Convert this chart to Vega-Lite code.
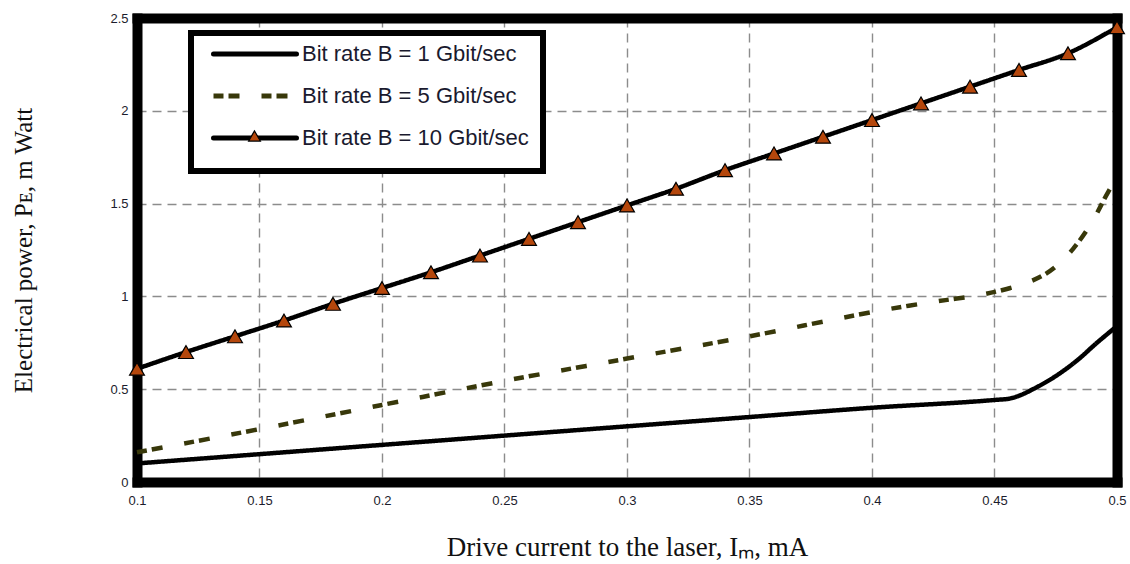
{
  "$schema": "https://vega.github.io/schema/vega-lite/v6.json",
  "width": 980,
  "height": 464,
  "autosize": {"type": "none"},
  "padding": {"left": 137, "top": 18, "right": 13, "bottom": 82},
  "background": "white",
  "config": {"view": {"stroke": null}, "font": "Liberation Sans"},
  "data": {
    "values": [
      {"series": "Bit rate B = 1 Gbit/sec", "current": 0.1, "power": 0.1},
      {"series": "Bit rate B = 1 Gbit/sec", "current": 0.15, "power": 0.15},
      {"series": "Bit rate B = 1 Gbit/sec", "current": 0.2, "power": 0.2},
      {"series": "Bit rate B = 1 Gbit/sec", "current": 0.25, "power": 0.25},
      {"series": "Bit rate B = 1 Gbit/sec", "current": 0.3, "power": 0.3},
      {"series": "Bit rate B = 1 Gbit/sec", "current": 0.35, "power": 0.35},
      {"series": "Bit rate B = 1 Gbit/sec", "current": 0.4, "power": 0.4},
      {"series": "Bit rate B = 1 Gbit/sec", "current": 0.45, "power": 0.442},
      {"series": "Bit rate B = 1 Gbit/sec", "current": 0.456, "power": 0.449},
      {"series": "Bit rate B = 1 Gbit/sec", "current": 0.461, "power": 0.47},
      {"series": "Bit rate B = 1 Gbit/sec", "current": 0.4657, "power": 0.5},
      {"series": "Bit rate B = 1 Gbit/sec", "current": 0.4755, "power": 0.575},
      {"series": "Bit rate B = 1 Gbit/sec", "current": 0.4837, "power": 0.655},
      {"series": "Bit rate B = 1 Gbit/sec", "current": 0.4918, "power": 0.75},
      {"series": "Bit rate B = 1 Gbit/sec", "current": 0.5, "power": 0.84},
      {"series": "Bit rate B = 5 Gbit/sec", "current": 0.1, "power": 0.16},
      {"series": "Bit rate B = 5 Gbit/sec", "current": 0.15, "power": 0.285},
      {"series": "Bit rate B = 5 Gbit/sec", "current": 0.2, "power": 0.415},
      {"series": "Bit rate B = 5 Gbit/sec", "current": 0.25, "power": 0.545},
      {"series": "Bit rate B = 5 Gbit/sec", "current": 0.3, "power": 0.665},
      {"series": "Bit rate B = 5 Gbit/sec", "current": 0.35, "power": 0.785},
      {"series": "Bit rate B = 5 Gbit/sec", "current": 0.4, "power": 0.915},
      {"series": "Bit rate B = 5 Gbit/sec", "current": 0.415, "power": 0.95},
      {"series": "Bit rate B = 5 Gbit/sec", "current": 0.43, "power": 0.98},
      {"series": "Bit rate B = 5 Gbit/sec", "current": 0.443, "power": 1.005},
      {"series": "Bit rate B = 5 Gbit/sec", "current": 0.455, "power": 1.04},
      {"series": "Bit rate B = 5 Gbit/sec", "current": 0.4625, "power": 1.07},
      {"series": "Bit rate B = 5 Gbit/sec", "current": 0.474, "power": 1.15},
      {"series": "Bit rate B = 5 Gbit/sec", "current": 0.482, "power": 1.255},
      {"series": "Bit rate B = 5 Gbit/sec", "current": 0.49, "power": 1.405},
      {"series": "Bit rate B = 5 Gbit/sec", "current": 0.4965, "power": 1.565},
      {"series": "Bit rate B = 5 Gbit/sec", "current": 0.5, "power": 1.64},
      {"series": "Bit rate B = 10 Gbit/sec", "current": 0.1, "power": 0.61},
      {"series": "Bit rate B = 10 Gbit/sec", "current": 0.12, "power": 0.7},
      {"series": "Bit rate B = 10 Gbit/sec", "current": 0.14, "power": 0.785},
      {"series": "Bit rate B = 10 Gbit/sec", "current": 0.16, "power": 0.87},
      {"series": "Bit rate B = 10 Gbit/sec", "current": 0.18, "power": 0.96},
      {"series": "Bit rate B = 10 Gbit/sec", "current": 0.2, "power": 1.045},
      {"series": "Bit rate B = 10 Gbit/sec", "current": 0.22, "power": 1.13},
      {"series": "Bit rate B = 10 Gbit/sec", "current": 0.24, "power": 1.22},
      {"series": "Bit rate B = 10 Gbit/sec", "current": 0.26, "power": 1.31},
      {"series": "Bit rate B = 10 Gbit/sec", "current": 0.28, "power": 1.4},
      {"series": "Bit rate B = 10 Gbit/sec", "current": 0.3, "power": 1.49},
      {"series": "Bit rate B = 10 Gbit/sec", "current": 0.32, "power": 1.58},
      {"series": "Bit rate B = 10 Gbit/sec", "current": 0.34, "power": 1.68},
      {"series": "Bit rate B = 10 Gbit/sec", "current": 0.36, "power": 1.77},
      {"series": "Bit rate B = 10 Gbit/sec", "current": 0.38, "power": 1.86},
      {"series": "Bit rate B = 10 Gbit/sec", "current": 0.4, "power": 1.95},
      {"series": "Bit rate B = 10 Gbit/sec", "current": 0.42, "power": 2.04},
      {"series": "Bit rate B = 10 Gbit/sec", "current": 0.44, "power": 2.13},
      {"series": "Bit rate B = 10 Gbit/sec", "current": 0.46, "power": 2.22},
      {"series": "Bit rate B = 10 Gbit/sec", "current": 0.48, "power": 2.31},
      {"series": "Bit rate B = 10 Gbit/sec", "current": 0.5, "power": 2.45}
    ]
  },
  "resolve": {"axis": {"x": "independent", "y": "independent"}},
  "layer": [
    {
      "mark": {"type": "line", "strokeWidth": 4.5, "interpolate": "monotone", "strokeCap": "butt", "strokeJoin": "round"},
      "encoding": {
        "x": {
          "field": "current", "type": "quantitative",
          "scale": {"domain": [0.1, 0.5], "nice": false, "zero": false},
          "axis": {
            "orient": "bottom",
            "title": "Drive current to the laser, Iₘ, mA",
            "values": [0.1, 0.15, 0.2, 0.25, 0.3, 0.35, 0.4, 0.45, 0.5],
            "format": "~g",
            "grid": true, "gridDash": [9, 6], "gridColor": "#8c8c8c", "gridWidth": 1.4,
            "gridOpacity": {"condition": {"test": "datum.value <= 0.1 || datum.value >= 0.5", "value": 0}, "value": 1},
            "ticks": false, "tickSize": 0,
            "domainWidth": 10, "domainColor": "black", "domainCap": "square",
            "labelFont": "Liberation Sans", "labelFontSize": 13, "labelColor": "#1c1c2c", "labelPadding": 12, "labelFlush": false,
            "titleFont": "Liberation Serif", "titleFontSize": 27, "titleFontWeight": "normal", "titleColor": "#111111", "titlePadding": 27
          }
        },
        "y": {
          "field": "power", "type": "quantitative",
          "scale": {"domain": [0, 2.5], "nice": false},
          "axis": {
            "orient": "left",
            "title": "Electrical power, Pᴇ, m Watt",
            "values": [0, 0.5, 1, 1.5, 2, 2.5],
            "format": "~g",
            "grid": true, "gridDash": [9, 6], "gridColor": "#8c8c8c", "gridWidth": 1.4,
            "gridOpacity": {"condition": {"test": "datum.value <= 0 || datum.value >= 2.5", "value": 0}, "value": 1},
            "ticks": false, "tickSize": 0,
            "domainWidth": 10, "domainColor": "black", "domainCap": "square",
            "labelFont": "Liberation Sans", "labelFontSize": 13, "labelColor": "#1c1c2c", "labelPadding": 9,
            "titleFont": "Liberation Serif", "titleFontSize": 25, "titleFontWeight": "normal", "titleColor": "#111111", "titlePadding": 73
          }
        },
        "stroke": {
          "field": "series", "type": "nominal",
          "scale": {
            "domain": ["Bit rate B = 1 Gbit/sec", "Bit rate B = 5 Gbit/sec", "Bit rate B = 10 Gbit/sec"],
            "range": ["#000000", "#38380a", "#000000"]
          },
          "legend": {
            "orient": "none", "legendX": 54, "legendY": 15, "zindex": 1,
            "title": " ", "titleOrient": "bottom", "titleFontSize": 8, "titlePadding": 0,
            "strokeColor": "black", "fillColor": "white",
            "padding": 14, "clipHeight": 14, "rowPadding": 20,
            "symbolType": "stroke", "symbolSize": 6889, "symbolStrokeWidth": 5, "symbolOffset": 6,
            "labelFont": "Liberation Sans", "labelFontSize": 22, "labelColor": "#1a1a2e", "labelOffset": 3, "labelLimit": 400,
            "encode": {
              "legend": {"update": {"strokeWidth": {"value": 6}}},
              "symbols": {
                "update": {
                  "strokeDash": [{"test": "datum.value === 'Bit rate B = 5 Gbit/sec'", "value": [9, 23]}],
                  "strokeCap": [{"test": "datum.value === 'Bit rate B = 5 Gbit/sec'", "value": "butt"}, {"value": "round"}]
                }
              }
            }
          }
        },
        "strokeDash": {
          "field": "series", "type": "nominal",
          "scale": {
            "domain": ["Bit rate B = 1 Gbit/sec", "Bit rate B = 5 Gbit/sec", "Bit rate B = 10 Gbit/sec"],
            "range": [[1, 0], [10, 5, 11, 22], [1, 0]]
          },
          "legend": null
        }
      }
    },
    {
      "transform": [{"filter": "datum.series === 'Bit rate B = 10 Gbit/sec'"}],
      "mark": {"type": "point", "shape": "triangle-up", "filled": true, "size": 220, "stroke": "black", "strokeWidth": 1.2, "opacity": 1},
      "encoding": {
        "x": {
          "field": "current", "type": "quantitative",
          "axis": {"orient": "top", "title": null, "labels": false, "ticks": false, "grid": false, "domainWidth": 10, "domainColor": "black", "domainCap": "square"}
        },
        "y": {
          "field": "power", "type": "quantitative",
          "axis": {"orient": "right", "title": null, "labels": false, "ticks": false, "grid": false, "domainWidth": 10, "domainColor": "black", "domainCap": "square"}
        },
        "fill": {
          "field": "series", "type": "nominal",
          "scale": {"range": ["#b5470c"]},
          "legend": {
            "orient": "none", "legendX": 110.5, "legendY": 111, "zindex": 2,
            "title": null, "labelExpr": "''", "labelFontSize": 1, "padding": 0,
            "symbolType": "triangle-up", "symbolSize": 140, "symbolStrokeColor": "black", "symbolStrokeWidth": 1.2, "symbolOffset": 0
          }
        }
      }
    }
  ]
}
